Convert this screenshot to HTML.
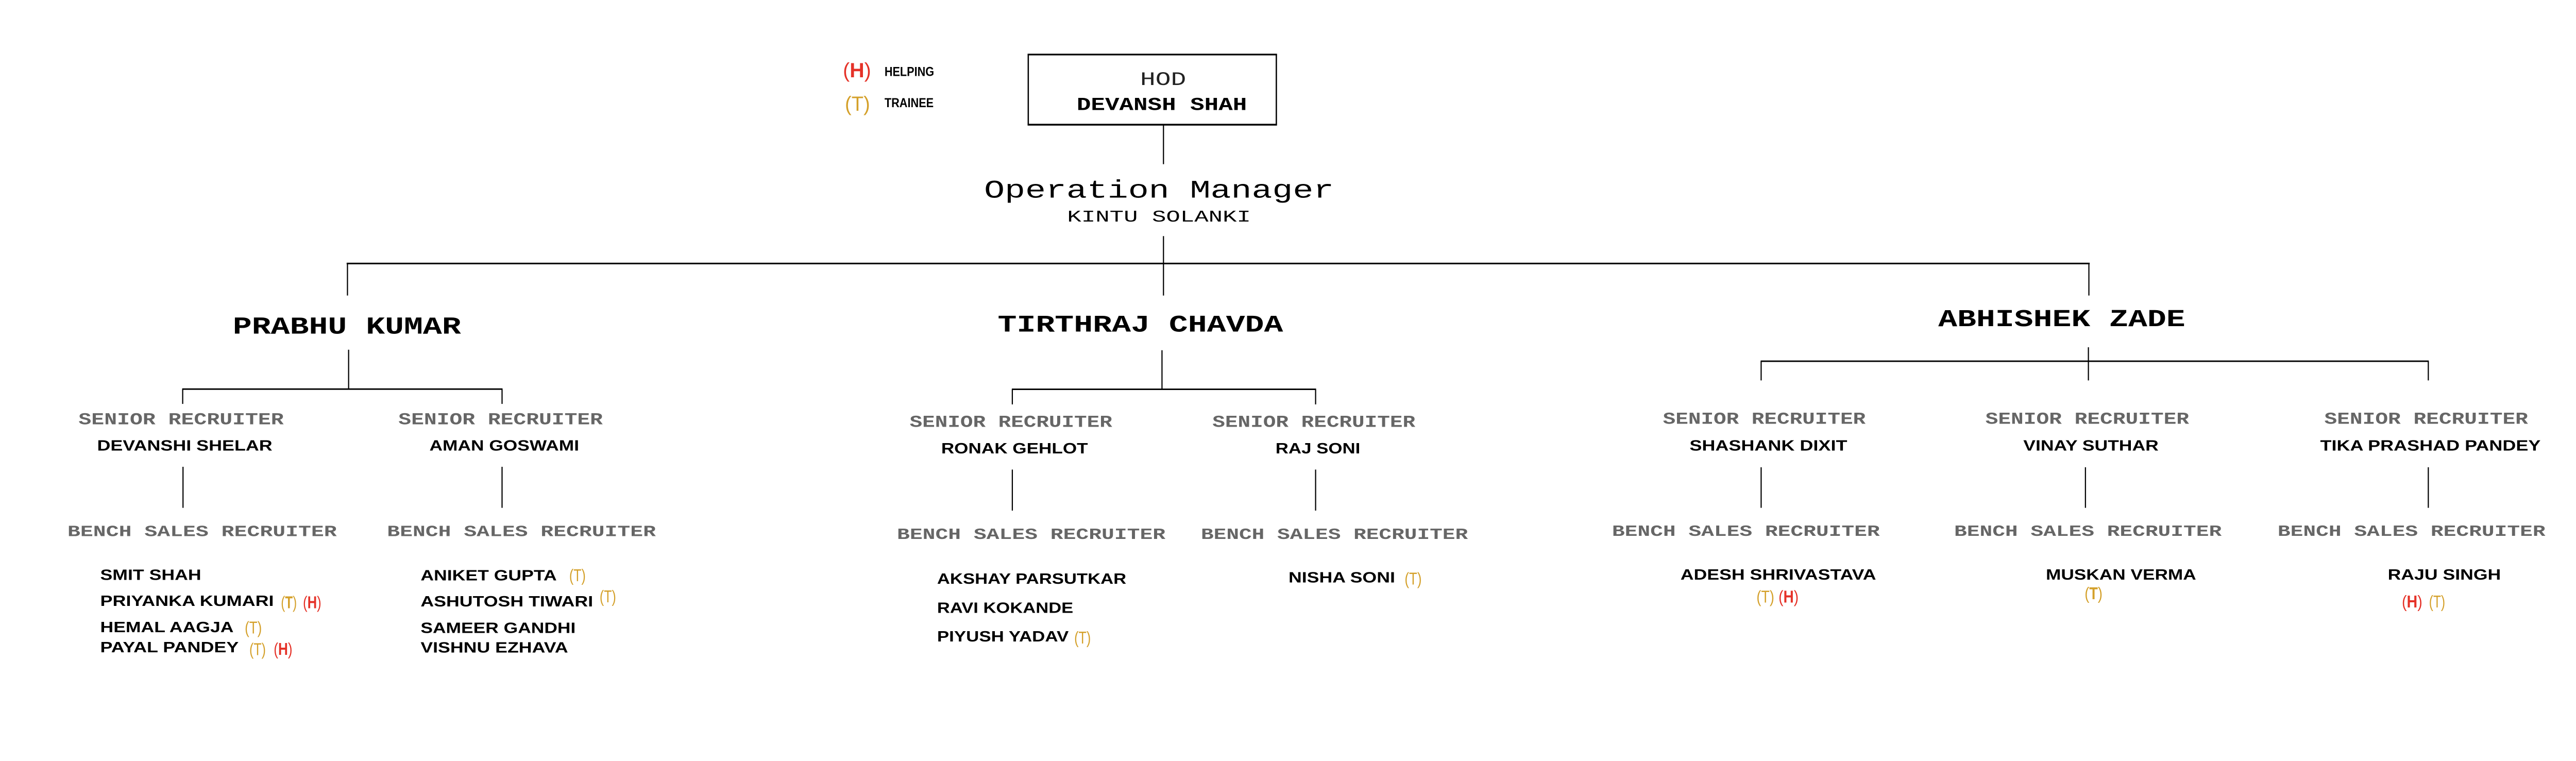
<!DOCTYPE html>
<html><head><meta charset="utf-8"><style>
html,body{margin:0;padding:0;background:#fff;overflow:hidden;width:100%;height:100%;}
svg{display:block;position:absolute;left:0;top:0;width:100vw;height:100vh;}
.m{font-family:"Liberation Mono","DejaVu Sans Mono",monospace;}
.s{font-family:"Liberation Sans","DejaVu Sans",sans-serif;font-weight:bold;}
.g{fill:#666;font-weight:bold;}
.k{fill:#000;}
.T{fill:#D4A02A;}
.H{fill:#E53228;}
line{stroke:#000;stroke-width:0.7;}
</style></head><body>
<svg viewBox="0 0 1568 463.5" preserveAspectRatio="none" xmlns="http://www.w3.org/2000/svg">
<rect x="0" y="0" width="1568" height="463.5" fill="#fff"/>
<!-- legend -->
<text class="s H" x="513.1" y="47" font-size="12.5" textLength="17.1" lengthAdjust="spacingAndGlyphs"><tspan font-weight="normal">(</tspan>H<tspan font-weight="normal">)</tspan></text>
<text class="s k" x="538.4" y="46.3" font-size="7.7" textLength="30.2" lengthAdjust="spacingAndGlyphs">HELPING</text>
<text class="s T" x="514.3" y="67.5" font-size="12.5" textLength="15.3" lengthAdjust="spacingAndGlyphs"><tspan font-weight="normal">(</tspan><tspan font-weight="normal">T</tspan><tspan font-weight="normal">)</tspan></text>
<text class="s k" x="538.4" y="65.2" font-size="7.7" textLength="29.9" lengthAdjust="spacingAndGlyphs">TRAINEE</text>

<!-- HOD box -->
<rect x="625.9" y="33.3" width="151" height="42.5" fill="none" stroke="#000" stroke-width="0.8"/>
<line x1="625.5" y1="33.2" x2="777.3" y2="33.2" style="stroke-width:1"/>
<line x1="625.5" y1="76" x2="777.3" y2="76" style="stroke-width:1"/>
<text class="m" fill="#222" x="694" y="51.8" font-size="11.7" textLength="28" lengthAdjust="spacingAndGlyphs">HOD</text>
<text class="m k" font-weight="bold" x="655.4" y="67" font-size="11" textLength="103.6" lengthAdjust="spacingAndGlyphs">DEVANSH SHAH</text>
<line x1="708.2" y1="76" x2="708.2" y2="100"/>

<text class="m k" x="599" y="120.4" font-size="15.3" textLength="213" lengthAdjust="spacingAndGlyphs">Operation Manager</text>
<text class="m k" x="649.6" y="135" font-size="10" textLength="111.8" lengthAdjust="spacingAndGlyphs">KINTU SOLANKI</text>

<line x1="708.2" y1="143.8" x2="708.2" y2="180"/>
<line x1="211" y1="160.5" x2="1272" y2="160.5" style="stroke-width:1"/>
<line x1="211.5" y1="160.5" x2="211.5" y2="180"/>
<line x1="1271.5" y1="160.5" x2="1271.5" y2="180"/>

<!-- managers -->
<text class="m k" font-weight="bold" x="141.7" y="203.2" font-size="14.7" textLength="138.9" lengthAdjust="spacingAndGlyphs">PRABHU KUMAR</text>
<text class="m k" font-weight="bold" x="607.3" y="202" font-size="14.5" textLength="173.7" lengthAdjust="spacingAndGlyphs">TIRTHRAJ CHAVDA</text>
<text class="m k" font-weight="bold" x="1179.8" y="198.7" font-size="14.8" textLength="150.4" lengthAdjust="spacingAndGlyphs">ABHISHEK ZADE</text>

<!-- Prabhu connectors -->
<line x1="212.2" y1="213" x2="212.2" y2="237"/>
<line x1="110.9" y1="237" x2="305.9" y2="237" style="stroke-width:0.9"/>
<line x1="111.2" y1="237" x2="111.2" y2="246"/>
<line x1="305.6" y1="237" x2="305.6" y2="246"/>
<!-- Tirthraj connectors -->
<line x1="707.3" y1="213.3" x2="707.3" y2="237.1"/>
<line x1="615.9" y1="237.1" x2="801.1" y2="237.1" style="stroke-width:0.9"/>
<line x1="616.2" y1="237.1" x2="616.2" y2="246.3"/>
<line x1="800.8" y1="237.1" x2="800.8" y2="246.3"/>
<!-- Abhishek connectors -->
<line x1="1271.2" y1="211.5" x2="1271.2" y2="231.7"/>
<line x1="1071.7" y1="220" x2="1478.4" y2="220" style="stroke-width:0.9"/>
<line x1="1072" y1="220" x2="1072" y2="231.7"/>
<line x1="1478.1" y1="220" x2="1478.1" y2="231.7"/>

<!-- senior recruiter labels -->
<g class="m g" font-size="10.2">
<text x="47.8" y="258.4" textLength="124.9" lengthAdjust="spacingAndGlyphs">SENIOR RECRUITER</text>
<text x="242.5" y="258.4" textLength="124.4" lengthAdjust="spacingAndGlyphs">SENIOR RECRUITER</text>
<text x="553.7" y="260" textLength="123.3" lengthAdjust="spacingAndGlyphs">SENIOR RECRUITER</text>
<text x="738" y="260" textLength="123.5" lengthAdjust="spacingAndGlyphs">SENIOR RECRUITER</text>
<text x="1012.2" y="258.1" textLength="123.4" lengthAdjust="spacingAndGlyphs">SENIOR RECRUITER</text>
<text x="1208.5" y="258.1" textLength="124" lengthAdjust="spacingAndGlyphs">SENIOR RECRUITER</text>
<text x="1414.8" y="258.1" textLength="124" lengthAdjust="spacingAndGlyphs">SENIOR RECRUITER</text>
</g>
<!-- senior names -->
<g class="s k" font-size="9.1">
<text x="59.1" y="274.5" textLength="106.7" lengthAdjust="spacingAndGlyphs">DEVANSHI SHELAR</text>
<text x="261.4" y="274.5" textLength="91.1" lengthAdjust="spacingAndGlyphs">AMAN GOSWAMI</text>
<text x="572.9" y="276.1" textLength="89.3" lengthAdjust="spacingAndGlyphs">RONAK GEHLOT</text>
<text x="776.4" y="276.1" textLength="51.6" lengthAdjust="spacingAndGlyphs">RAJ SONI</text>
<text x="1028.4" y="274.5" textLength="96" lengthAdjust="spacingAndGlyphs">SHASHANK DIXIT</text>
<text x="1231.6" y="274.5" textLength="82.3" lengthAdjust="spacingAndGlyphs">VINAY SUTHAR</text>
<text x="1412.3" y="274.5" textLength="134.2" lengthAdjust="spacingAndGlyphs">TIKA PRASHAD PANDEY</text>
</g>
<!-- vertical connectors -->
<line x1="111.4" y1="284.3" x2="111.4" y2="309.3"/>
<line x1="305.6" y1="284.3" x2="305.6" y2="309.3"/>
<line x1="616.2" y1="286" x2="616.2" y2="311"/>
<line x1="800.8" y1="286" x2="800.8" y2="311"/>
<line x1="1072" y1="284.6" x2="1072" y2="309.3"/>
<line x1="1269.4" y1="284.6" x2="1269.4" y2="309.3"/>
<line x1="1478.1" y1="284.6" x2="1478.1" y2="309.3"/>

<!-- bench labels -->
<g class="m g" font-size="9.5">
<text x="41.1" y="326.6" textLength="163.9" lengthAdjust="spacingAndGlyphs">BENCH SALES RECRUITER</text>
<text x="235.6" y="326.6" textLength="163.6" lengthAdjust="spacingAndGlyphs">BENCH SALES RECRUITER</text>
<text x="546" y="328.2" textLength="163.4" lengthAdjust="spacingAndGlyphs">BENCH SALES RECRUITER</text>
<text x="731" y="328.2" textLength="162.5" lengthAdjust="spacingAndGlyphs">BENCH SALES RECRUITER</text>
<text x="981.2" y="326.4" textLength="163" lengthAdjust="spacingAndGlyphs">BENCH SALES RECRUITER</text>
<text x="1189.5" y="326.4" textLength="162.8" lengthAdjust="spacingAndGlyphs">BENCH SALES RECRUITER</text>
<text x="1386.4" y="326.4" textLength="163" lengthAdjust="spacingAndGlyphs">BENCH SALES RECRUITER</text>
</g>

<!-- bench names -->
<g class="s k" font-size="9.1">
<text x="61" y="353.2" textLength="61.5" lengthAdjust="spacingAndGlyphs">SMIT SHAH</text>
<text x="61" y="369" textLength="105.7" lengthAdjust="spacingAndGlyphs">PRIYANKA KUMARI</text>
<text x="61" y="385.1" textLength="81.2" lengthAdjust="spacingAndGlyphs">HEMAL AAGJA</text>
<text x="61" y="397.3" textLength="84.3" lengthAdjust="spacingAndGlyphs">PAYAL PANDEY</text>
<text x="256" y="353.5" textLength="82.9" lengthAdjust="spacingAndGlyphs">ANIKET GUPTA</text>
<text x="256" y="369.3" textLength="105" lengthAdjust="spacingAndGlyphs">ASHUTOSH TIWARI</text>
<text x="256" y="385.5" textLength="94.4" lengthAdjust="spacingAndGlyphs">SAMEER GANDHI</text>
<text x="256" y="397.4" textLength="89.8" lengthAdjust="spacingAndGlyphs">VISHNU EZHAVA</text>
<text x="570.4" y="355.6" textLength="115.2" lengthAdjust="spacingAndGlyphs">AKSHAY PARSUTKAR</text>
<text x="570.4" y="373.3" textLength="82.9" lengthAdjust="spacingAndGlyphs">RAVI KOKANDE</text>
<text x="570.4" y="390.7" textLength="80.1" lengthAdjust="spacingAndGlyphs">PIYUSH YADAV</text>
<text x="784.3" y="354.7" textLength="64.9" lengthAdjust="spacingAndGlyphs">NISHA SONI</text>
<text x="1022.9" y="353.1" textLength="119.1" lengthAdjust="spacingAndGlyphs">ADESH SHRIVASTAVA</text>
<text x="1245.3" y="353.1" textLength="91.5" lengthAdjust="spacingAndGlyphs">MUSKAN VERMA</text>
<text x="1453.4" y="353.1" textLength="68.9" lengthAdjust="spacingAndGlyphs">RAJU SINGH</text>
</g>

<!-- badges -->
<g class="s" font-size="10.5">
<text class="T" x="171" y="370.5" textLength="9.7" lengthAdjust="spacingAndGlyphs"><tspan font-weight="normal">(</tspan>T<tspan font-weight="normal">)</tspan></text>
<text class="H" x="184.4" y="370.5" textLength="11.2" lengthAdjust="spacingAndGlyphs"><tspan font-weight="normal">(</tspan>H<tspan font-weight="normal">)</tspan></text>
<text class="T" x="149" y="385.8" textLength="10.4" lengthAdjust="spacingAndGlyphs" font-weight="normal">(T)</text>
<text class="T" x="151.8" y="399" textLength="10" lengthAdjust="spacingAndGlyphs" font-weight="normal">(T)</text>
<text class="H" x="166.6" y="398.8" textLength="11.4" lengthAdjust="spacingAndGlyphs"><tspan font-weight="normal">(</tspan>H<tspan font-weight="normal">)</tspan></text>
<text class="T" x="346.5" y="354" textLength="10" lengthAdjust="spacingAndGlyphs" font-weight="normal">(T)</text>
<text class="T" x="365" y="366.8" textLength="10" lengthAdjust="spacingAndGlyphs" font-weight="normal">(T)</text>
<text class="T" x="653.9" y="392" textLength="10.1" lengthAdjust="spacingAndGlyphs" font-weight="normal">(T)</text>
<text class="T" x="855" y="356" textLength="10.4" lengthAdjust="spacingAndGlyphs" font-weight="normal">(T)</text>
<text class="T" x="1069.2" y="367" textLength="10.8" lengthAdjust="spacingAndGlyphs" font-weight="normal">(T)</text>
<text class="H" x="1082.6" y="367" textLength="12.2" lengthAdjust="spacingAndGlyphs"><tspan font-weight="normal">(</tspan>H<tspan font-weight="normal">)</tspan></text>
<text class="T" x="1268.9" y="365" textLength="10.9" lengthAdjust="spacingAndGlyphs"><tspan font-weight="normal">(</tspan>T<tspan font-weight="normal">)</tspan></text>
<text class="H" x="1462" y="370" textLength="12.5" lengthAdjust="spacingAndGlyphs"><tspan font-weight="normal">(</tspan>H<tspan font-weight="normal">)</tspan></text>
<text class="T" x="1478.5" y="370" textLength="9.9" lengthAdjust="spacingAndGlyphs" font-weight="normal">(T)</text>
</g>
</svg>
</body></html>
